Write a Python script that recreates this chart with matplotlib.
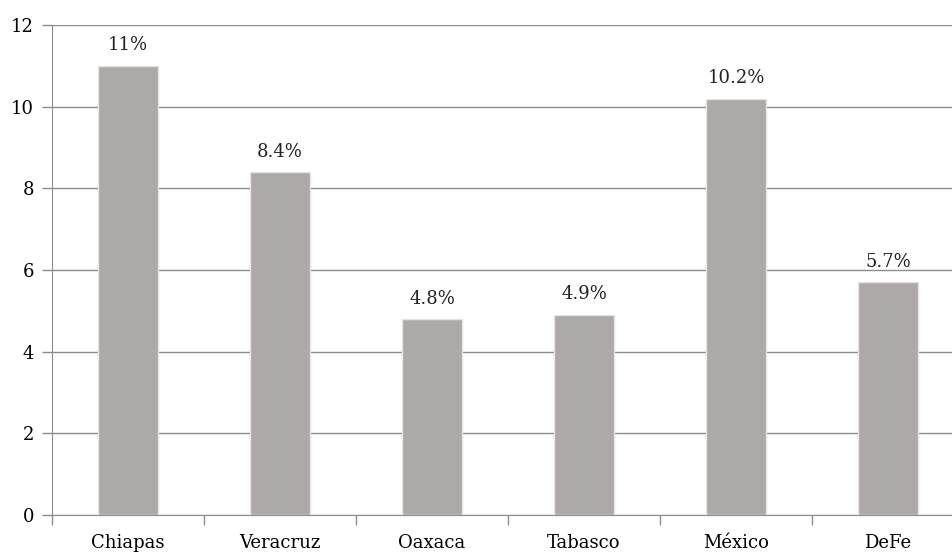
import matplotlib.pyplot as plt
import numpy as np

estados = ['Chiapas', 'Veracruz', 'Oaxaca', 'Tabasco', 'México', 'DeFe']
valores = [11, 8.4, 4.8, 4.9, 10.2, 5.7]
etiquetas = ['11%', '8.4%', '4.8%', '4.9%', '10.2%', '5.7%']

plt.rcParams['font.family'] = ['DejaVu Serif']

fig = plt.figure(figsize=(9.52, 5.52), dpi=100)
# right edge runs slightly past the canvas, as in the original
ax = fig.add_axes([52/952, (552-515)/552, 912/952, 490/552])

x = np.arange(len(estados))
ax.bar(x, valores, width=0.4, color='#ada9a8', edgecolor='#e6e4e3', linewidth=1, zorder=3)

for xi, v, t in zip(x, valores, etiquetas):
    ax.text(xi, v + 0.28, t, ha='center', va='bottom', fontsize=13, color='#222222')

ax.set_xlim(-0.5, len(estados) - 0.5)
ax.set_ylim(0, 12)
ax.set_yticks(range(0, 13, 2))
ax.yaxis.grid(True, color='#8c8c8c', linewidth=1)
ax.set_axisbelow(True)

ax.set_xticks(x)
ax.set_xticklabels(estados, fontsize=13)
ax.set_xticks(np.arange(-0.5, len(estados), 1), minor=True)
ax.tick_params(axis='x', which='major', length=0, pad=14)
ax.tick_params(axis='x', which='minor', length=7, color='#8c8c8c', width=1)
ax.tick_params(axis='y', length=7, color='#8c8c8c', width=1, labelsize=13, pad=6)

for s in ['top', 'right']:
    ax.spines[s].set_visible(False)
for s in ['left', 'bottom']:
    ax.spines[s].set_color('#8c8c8c')

fig.savefig('out.png', dpi=100)
